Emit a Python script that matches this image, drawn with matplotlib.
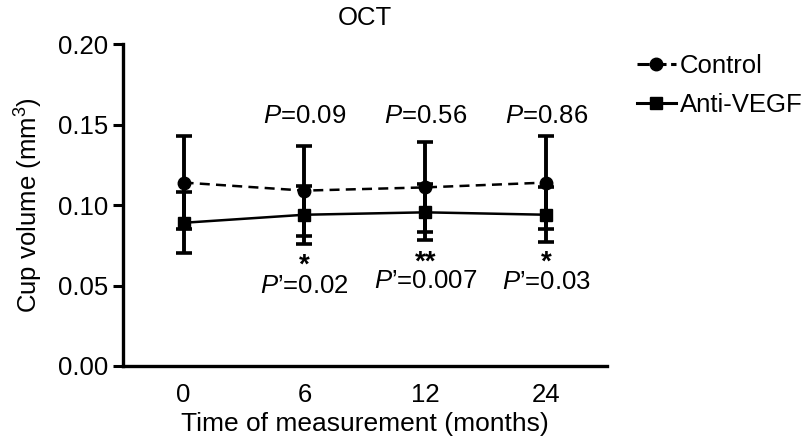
import numpy as np
import matplotlib.pyplot as plt
from matplotlib.lines import Line2D

plt.rcParams['font.family'] = ['Liberation Sans', 'DejaVu Sans']
plt.rcParams['mathtext.fontset'] = 'custom'
plt.rcParams['mathtext.rm'] = 'Liberation Sans'
plt.rcParams['mathtext.it'] = 'Liberation Sans:italic'

# data
months = ['0', '6', '12', '24']
control_mean = [0.114, 0.109, 0.111, 0.114]
control_err = [0.029, 0.028, 0.028, 0.029]
anti_mean = [0.089, 0.094, 0.0955, 0.094]
anti_err = [0.019, 0.018, 0.0175, 0.017]
p_upper = ['0.09', '0.56', '0.86']
p_lower = ['0.02', '0.007', '0.03']
stars = ['*', '**', '*']

fs = 18.5
fig = plt.figure(figsize=(8.1, 4.42), dpi=100)
ax = fig.add_axes([0.152, 0.172, 0.597, 0.728])

x = np.arange(len(months))

dash = (0, (4, 2.5))
ax.errorbar(x, control_mean, yerr=control_err, color='black', lw=1.8, ls=dash,
            marker='o', ms=9, capsize=6, capthick=2.6, elinewidth=2.8)
ax.errorbar(x, anti_mean, yerr=anti_err, color='black', lw=1.8, ls='-',
            marker='s', ms=9, capsize=6, capthick=2.6, elinewidth=2.8)

# P values above (control vs anti-VEGF)
for i, p in enumerate(p_upper):
    ax.text(x[i + 1], 0.1555, r'$P$=' + p, ha='center', va='center', fontsize=fs)

# P' values below (vs baseline)
lower_y = [0.050, 0.053, 0.0525]
star_y = [0.0625, 0.0645, 0.0645]
for i, (p, s) in enumerate(zip(p_lower, stars)):
    ax.text(x[i + 1], star_y[i], s, ha='center', va='center', fontsize=fs + 1.5,
            fontweight='bold')
    ax.text(x[i + 1], lower_y[i], r"$P’$=" + p, ha='center', va='center', fontsize=fs)

ax.set_xlim(-0.5, 3.5)
ax.set_ylim(0, 0.20)
ax.set_xticks(x)
ax.set_xticklabels(months)
ax.set_yticks([0, 0.05, 0.10, 0.15, 0.20])
ax.set_yticklabels(['0.00', '0.05', '0.10', '0.15', '0.20'])
ax.tick_params(axis='y', length=7, width=2.2, labelsize=fs, pad=4)
ax.tick_params(axis='x', length=0, labelsize=fs, pad=12)

for side in ['top', 'right']:
    ax.spines[side].set_visible(False)
for side in ['left', 'bottom']:
    ax.spines[side].set_linewidth(2.4)

ax.set_xlabel('Time of measurement (months)', fontsize=fs + 0.5, labelpad=4)
ax.set_ylabel('Cup volume (mm$^3$)', fontsize=fs, labelpad=9)
ax.set_title('OCT', fontsize=fs, pad=14)

handles = [Line2D([], [], color='black', lw=2.2, ls=(0, (4, 1.5)), marker='o', ms=9),
           Line2D([], [], color='black', lw=2.2, ls='-', marker='s', ms=9)]
fig.legend(handles, ['Control', 'Anti-VEGF'], loc='upper left', bbox_to_anchor=(0.774, 0.9),
           frameon=False, fontsize=fs, handlelength=1.5, handletextpad=0.15,
           labelspacing=0.55, borderaxespad=0)

fig.savefig('out.png', dpi=100)
